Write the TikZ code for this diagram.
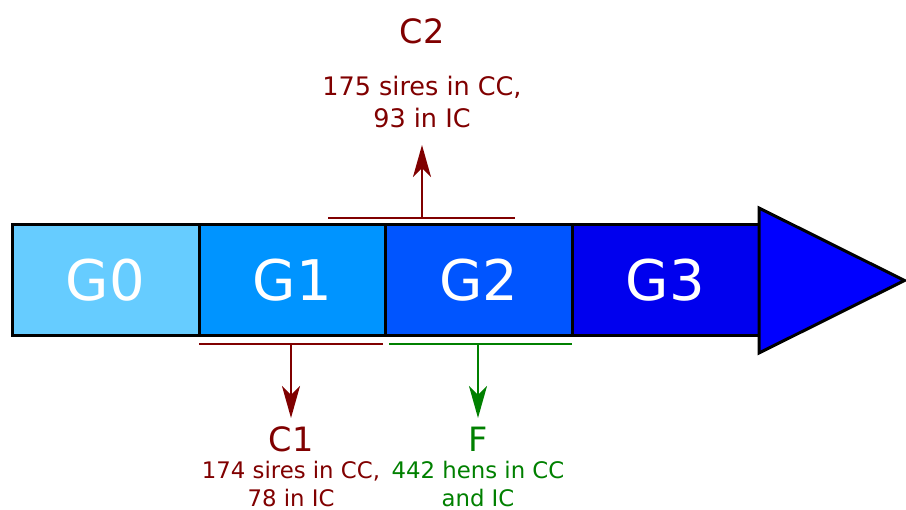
\documentclass[tikz,border=0pt]{standalone}
\usepackage{fontspec}
\setmainfont{DejaVu Sans}
\usetikzlibrary{arrows.meta}
\definecolor{cz}{RGB}{102,204,255}
\definecolor{co}{RGB}{0,148,255}
\definecolor{ct}{RGB}{0,85,255}
\definecolor{cth}{RGB}{0,0,238}
\definecolor{ctri}{RGB}{0,0,255}
\definecolor{dred}{RGB}{128,0,0}
\definecolor{dgreen}{RGB}{0,128,0}
\tikzset{
  gen/.style={draw=black, line width=3pt, minimum width=187pt, minimum height=111pt,
    inner sep=0pt, text=white, font=\fontsize{56}{60}\selectfont},
  bar/.style={line width=2.2pt},
  arr/.style={line width=2.2pt, -{Stealth[length=32pt,width=18pt,inset=9pt]}},
  lab/.style={font=\fontsize{33.5}{36}\selectfont},
  info/.style={align=center, inner sep=0pt}
}
\begin{document}
\begin{tikzpicture}[x=1pt,y=-1pt]
\useasboundingbox (0,0) rectangle (906,510);
\node[gen, fill=cz]  (g0) at (105.5,280.5) {G0};
\node[gen, fill=co]  (g1) at (292.5,280.5) {G1};
\node[gen, fill=ct]  (g2) at (479,280.5) {G2};
\node[gen, fill=cth] (g3) at (665.5,280.5) {G3};
\draw[line width=3pt, line join=miter, fill=ctri] (759,208) -- (904.5,280.5) -- (759,353) -- cycle;

% C2
\coordinate (c2l) at (328,218);
\coordinate (c2r) at (515,218);
\coordinate (c2m) at (422,218);
\coordinate (c2t) at (422,145);
\draw[bar, dred] (c2l) -- (c2r);
\draw[arr, dred] (c2m) -- (c2t);
\node[lab, text=dred] (c2) at (422,31) {C2};
\node[info, text=dred, font=\fontsize{25.5}{32}\selectfont] (c2i) at (422,102) {175 sires in CC,\\93 in IC};

% C1
\coordinate (c1l) at (199,344);
\coordinate (c1r) at (383,344);
\coordinate (c1m) at (291,344);
\coordinate (c1t) at (291,418);
\draw[bar, dred] (c1l) -- (c1r);
\draw[arr, dred] (c1m) -- (c1t);
\node[lab, text=dred] (c1) at (291,439) {C1};
\node[info, text=dred, font=\fontsize{22.8}{27.5}\selectfont] (c1i) at (291,484) {174 sires in CC,\\78 in IC};

% F
\coordinate (fl) at (389,344);
\coordinate (fr) at (572,344);
\coordinate (fm) at (478,344);
\coordinate (ft) at (478,418);
\draw[bar, dgreen] (fl) -- (fr);
\draw[arr, dgreen] (fm) -- (ft);
\node[lab, text=dgreen] (f) at (478,439) {F};
\node[info, text=dgreen, font=\fontsize{22.8}{27.5}\selectfont] (fi) at (478,484) {442 hens in CC\\and IC};
\end{tikzpicture}
\end{document}
